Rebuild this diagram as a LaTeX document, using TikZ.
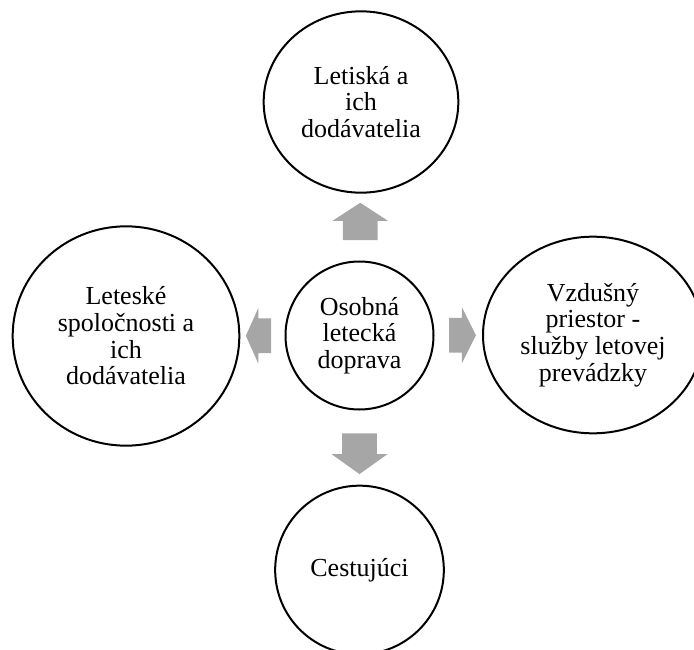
\documentclass[tikz,border=0pt]{standalone}
\usepackage{fontspec}
\setmainfont{Liberation Serif}
\usetikzlibrary{shapes.geometric,shapes.arrows,positioning,calc}

\begin{document}
\begin{tikzpicture}[x=0.75pt,y=-0.75pt,
    bubble/.style={draw, ellipse, line width=1.5pt, inner sep=0pt, align=center,
        font=\fontsize{19.5}{20}\selectfont},
    blockarrow/.style={single arrow, fill=gray!70, inner sep=0pt, inner ysep=12.75pt,
        single arrow head extend=8pt}]
    \useasboundingbox (0,0) rectangle (694,650);

    % Centre bubble
    \node[bubble, minimum width=111pt, minimum height=111pt] (hub) at (359.5,335.5) {Osobná\\letecká\\doprava};

    % Outer bubbles
    \node[bubble, minimum width=146pt, minimum height=136pt] (airports) at (361,102) {Letiská a\\ich\\dodávatelia};
    \node[bubble, minimum width=170pt, minimum height=164.5pt] (airlines) at (126,336) {Leteské\\spoločnosti a\\ich\\dodávatelia};
    \node[bubble, minimum width=165pt, minimum height=147.5pt] (airspace) at (593,335) {Vzdušný\\priestor -\\služby letovej\\prevádzky};
    \node[bubble, minimum width=126.5pt, minimum height=126.5pt] (passengers) at (359.5,570) {Cestujúci};

    % Block arrows
    \node[blockarrow, rotate=90, minimum height=28pt, single arrow tip angle=114] (upArrow) at ($(airports.south)!0.5!(hub.north)$) {};
    \node[blockarrow, rotate=180, minimum height=19pt, single arrow tip angle=132] (leftArrow) at ($(airlines.east)!0.5!(hub.west)$) {};
    \node[blockarrow, rotate=0, minimum height=20pt, single arrow tip angle=127] (rightArrow) at ($(hub.east)!0.5!(airspace.west)$) {};
    \node[blockarrow, rotate=-90, minimum height=30.5pt, single arrow tip angle=109] (downArrow) at ($(hub.south)!0.5!(passengers.north)$) {};
\end{tikzpicture}
\end{document}
